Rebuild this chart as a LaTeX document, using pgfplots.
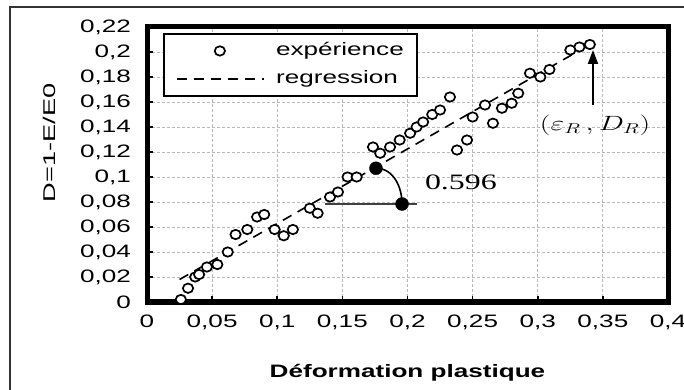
\documentclass[border=0pt]{standalone}
\usepackage{pgfplots}
\pgfplotsset{compat=1.18}
\usetikzlibrary{arrows.meta}
\usepackage{fontspec}
\setmainfont{Liberation Sans}[FakeStretch=1.45]
\newfontfamily\serifnum{Liberation Serif}[FakeStretch=1.45]
\newfontfamily\ylabfont{Liberation Sans}[FakeStretch=1.6]
\pgfplotsset{
  legline/.style={legend image code/.code={\draw[##1] (0bp,0bp) -- (87bp,0bp);}},
  legmark/.style={legend image code/.code={\draw[mark repeat=2,mark phase=2,##1] plot coordinates {(0bp,0bp) (43bp,0bp) (87bp,0bp)};}},
}
\begin{document}
\fontsize{18bp}{21bp}\selectfont
\begin{tikzpicture}
\path[use as bounding box] (0bp,0bp) rectangle (684bp,390bp);
\draw[line width=1.2bp, black!80] (10bp,-5bp) -- (10bp,383bp) -- (690bp,383bp);
\begin{axis}[
  at={(147bp,88bp)}, anchor=south west,
  width=521bp, height=275bp, scale only axis,
  xmin=0, xmax=0.4, ymin=0, ymax=0.22,
  clip=false,
  xtick={0,0.05,0.1,0.15,0.2,0.25,0.3,0.35,0.4},
  ytick={0,0.02,0.04,0.06,0.08,0.1,0.12,0.14,0.16,0.18,0.2,0.22},
  scaled ticks=false,
  /pgf/number format/.cd, fixed, precision=2, use comma, assume math mode=true,
  /pgfplots/.cd,
  xtick pos=bottom, ytick pos=left,
  tick align=inside,
  major tick length=6bp,
  tick style={black, line width=1.6bp},
  axis line style={line width=5bp},
  grid=major,
  major grid style={gray!55, dash pattern=on 3bp off 2bp, line width=0.8bp},
  xticklabel style={yshift=-7bp},
  yticklabel style={xshift=-10bp},
  xlabel={\bfseries D\'eformation plastique},
  xlabel style={at={(axis description cs:0.5,0)}, anchor=base, yshift=-75bp},
  ylabel={\ylabfont\fontsize{17bp}{19bp}\selectfont D=1-E/E0},
  ylabel style={at={(axis description cs:-0.188,0.578)}, anchor=center},
  reverse legend,
  legend cell align=left,
  legend style={at={(0.031,0.978)}, anchor=north west, draw=black, line width=1.8bp,
    inner xsep=12bp, inner ysep=7bp, row sep=8bp, column sep=10bp,
    nodes={inner sep=1.5bp, text height=13bp, text depth=4bp, line width=1.5bp}},
]
\addplot[black, line width=1.6bp, dash pattern=on 10bp off 7bp, legline]
  coordinates {(0.025,0.018) (0.34,0.206)};
\addlegendentry{regression}
\addplot[only marks, mark=*, mark size=4.7bp,
  mark options={line width=1.7bp, fill=white, draw=black, xscale=1.1}, legmark]
  coordinates {
  (0.026,0.002) (0.0315,0.011) (0.037,0.020) (0.040,0.022) (0.046,0.028)
  (0.054,0.030) (0.062,0.040) (0.068,0.054) (0.077,0.058) (0.0845,0.068)
  (0.090,0.070) (0.098,0.058) (0.105,0.053) (0.112,0.058) (0.125,0.075)
  (0.131,0.071) (0.1405,0.084) (0.1466,0.088) (0.154,0.100) (0.161,0.100)
  (0.1735,0.124) (0.179,0.119) (0.1866,0.124) (0.194,0.1296) (0.202,0.135)
  (0.207,0.140) (0.212,0.144) (0.219,0.150) (0.225,0.1536) (0.2326,0.164)
  (0.238,0.1216) (0.2457,0.1296) (0.250,0.148) (0.2595,0.1576) (0.2656,0.143)
  (0.2725,0.155) (0.280,0.159) (0.285,0.167) (0.294,0.183) (0.302,0.180)
  (0.309,0.186) (0.325,0.2016) (0.332,0.204) (0.340,0.206)
  };
\addlegendentry{exp\'erience}
\draw[black!75, line width=1.5bp] (axis cs:0.1367,0.0784) -- (axis cs:0.2073,0.0784);
\draw[black, line width=1.6bp] (axis cs:0.1758,0.107) to[out=0,in=90] (axis cs:0.1958,0.0784);
\addplot[only marks, mark=*, mark size=6.5bp, black, forget plot]
  coordinates {(0.1758,0.107) (0.1958,0.0784)};
\draw[-{Triangle[length=14bp,width=10bp]}, line width=2bp]
  (axis cs:0.3424,0.1576) -- (axis cs:0.3424,0.2016);
\node at (axis cs:0.241,0.096) {\serifnum\fontsize{22bp}{24bp}\selectfont 0.596};
\node at (axis cs:0.344,0.1416) {\scalebox{1.45}[1]{\fontsize{22bp}{24bp}\selectfont$(\varepsilon_R\,,D_R)$}};
\end{axis}
\end{tikzpicture}
\end{document}
